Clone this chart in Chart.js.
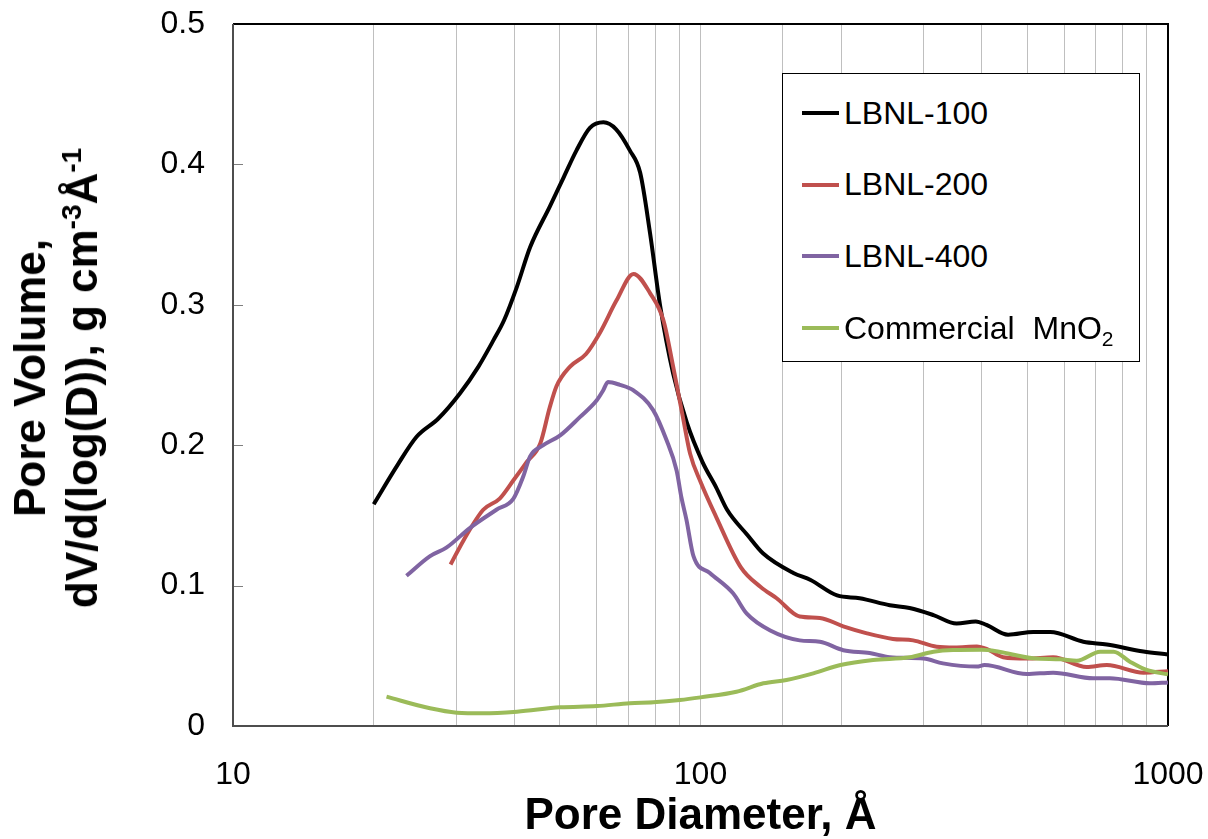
<!DOCTYPE html>
<html>
<head>
<meta charset="utf-8">
<script src="https://cdn.jsdelivr.net/npm/chart.js@4/dist/chart.umd.min.js"></script>
<style>
  body { margin: 0; background: #fff; }
  #wrap { position: relative; width: 1208px; height: 839px; }
  #yTitle {
    position: absolute; left: 56px; top: 378px;
    transform: translate(-50%, -50%) rotate(-90deg);
    font: bold 44px "Liberation Sans", Arial, sans-serif;
    line-height: 52px; text-align: center; white-space: nowrap; color: #000;
  }
  #yTitle sup { font-size: 28px; vertical-align: 16px; line-height: 0; }
  #legendBox {
    position: absolute; left: 782px; top: 73px; width: 356px; height: 287px;
    border: 1.5px solid #000; background: #fff;
    font: 32px "Liberation Sans", Arial, sans-serif; color: #000;
  }
  .legendRow { position: absolute; left: 0; height: 72px; display: flex; align-items: center; white-space: nowrap; }
  .legendLine { width: 37px; height: 4px; margin-left: 19px; margin-right: 5px; }
  .legendRow sub { font-size: 21px; vertical-align: -7px; line-height: 0; }
</style>
</head>
<body>
<div id="wrap">
  <canvas id="poreChart"></canvas>
  <div id="yTitle">Pore Volume,<br>dV/d(log(D)), g cm<sup>-3</sup>Å<sup>-1</sup></div>
  <div id="legendBox"></div>
</div>
<script>
// values (diameter in Å, dV/dlogD in g cm-3 Å-1)
const seriesNames = ["LBNL-100", "LBNL-200", "LBNL-400", "Commercial  MnO2"];
const seriesColors = ["#000000", "#c0504d", "#8064a2", "#9bbb59"];

const lbnl100Diameter = [20, 22.5, 24.7, 27.5, 30.6, 33.5, 36.1, 38, 40.5, 43.2, 47.6, 51, 54.3, 58, 62, 66, 70.6, 74.3, 78, 82, 87.4, 93.5, 101, 108, 114, 126, 136, 158, 172, 196, 219, 254, 280, 315, 353, 388, 409, 455, 515, 560, 659, 740, 886, 1000];
const lbnl100Volume = [0.158, 0.186, 0.206, 0.219, 0.237, 0.256, 0.275, 0.289, 0.313, 0.341, 0.370, 0.391, 0.410, 0.426, 0.430, 0.425, 0.410, 0.394, 0.351, 0.299, 0.251, 0.216, 0.188, 0.170, 0.154, 0.136, 0.123, 0.109, 0.104, 0.093, 0.091, 0.086, 0.084, 0.079, 0.073, 0.0745, 0.072, 0.065, 0.067, 0.067, 0.060, 0.058, 0.053, 0.051];

const lbnl200Diameter = [29.2, 31.1, 34.3, 37.2, 39.8, 42.5, 45.4, 47.6, 49.2, 52.6, 56.9, 60.9, 66.1, 71.9, 78.1, 83.3, 87.4, 91.7, 95, 100, 108, 122, 134.5, 145.5, 163, 180, 202, 227, 258, 285, 320, 350, 390, 409, 444, 500, 568, 670, 740, 886, 1000];
const lbnl200Volume = [0.115, 0.132, 0.154, 0.162, 0.175, 0.188, 0.201, 0.227, 0.242, 0.256, 0.265, 0.280, 0.303, 0.322, 0.308, 0.289, 0.256, 0.220, 0.194, 0.174, 0.149, 0.113, 0.099, 0.091, 0.078, 0.077, 0.071, 0.066, 0.062, 0.061, 0.0565, 0.056, 0.0567, 0.055, 0.049, 0.048, 0.049, 0.042, 0.0434, 0.038, 0.039];

const lbnl400Diameter = [23.5, 26.4, 28.6, 32.1, 36.6, 39.8, 41.8, 43.2, 46.1, 50.1, 55.2, 60, 61.9, 63.4, 67.2, 71.9, 79.2, 84.5, 88.9, 91, 93.3, 96.6, 104.7, 117.4, 125.6, 141, 163, 180, 202, 230, 254, 300, 330, 390, 405, 499, 568, 692, 751, 915, 1000];
const lbnl400Volume = [0.107, 0.121, 0.127, 0.141, 0.154, 0.162, 0.178, 0.192, 0.200, 0.207, 0.220, 0.232, 0.239, 0.245, 0.243, 0.239, 0.225, 0.204, 0.182, 0.163, 0.147, 0.121, 0.109, 0.0945, 0.080, 0.068, 0.061, 0.060, 0.054, 0.052, 0.049, 0.048, 0.0446, 0.0423, 0.0434, 0.037, 0.038, 0.034, 0.034, 0.0304, 0.031];

const mno2Diameter = [21.3, 26.4, 30.1, 34.3, 40.5, 50.1, 60, 70.6, 79.3, 90.3, 100, 119.4, 136.3, 152.7, 174.3, 199.3, 234, 280, 315, 347, 400, 435, 515, 589, 638, 716, 765, 829, 900, 1000];
const mno2Volume = [0.0209, 0.0126, 0.0095, 0.009, 0.0102, 0.0133, 0.0142, 0.0162, 0.0169, 0.0185, 0.0204, 0.0244, 0.0304, 0.0328, 0.0375, 0.0434, 0.047, 0.0489, 0.0529, 0.0541, 0.0543, 0.0529, 0.0482, 0.0475, 0.0465, 0.0529, 0.0529, 0.0458, 0.0399, 0.0368];

const xTickLabels = [10, 100, 1000];
const yTickValues = [0, 0.1, 0.2, 0.3, 0.4, 0.5];

const diameters = [lbnl100Diameter, lbnl200Diameter, lbnl400Diameter, mno2Diameter];
const volumes = [lbnl100Volume, lbnl200Volume, lbnl400Volume, mno2Volume];

function toPoints(xs, ys) {
  return xs.map((x, i) => ({ x: x, y: ys[i] }));
}

Chart.defaults.font.family = '"Liberation Sans", Arial, sans-serif';
Chart.defaults.color = '#000';

// frame round the plot area plus the short inside ticks on the y axis
const framePlugin = {
  id: 'frame',
  beforeDatasetsDraw(chart) {
    const { ctx, chartArea: a } = chart;
    const yScale = chart.scales.y;
    ctx.save();
    ctx.strokeStyle = '#7f7f7f';
    ctx.lineWidth = 1;
    yTickValues.forEach(v => {
      const py = Math.round(yScale.getPixelForValue(v)) + 0.5;
      ctx.beginPath();
      ctx.moveTo(a.left, py);
      ctx.lineTo(a.left + 10, py);
      ctx.stroke();
    });
    ctx.lineWidth = 2;
    ctx.strokeStyle = '#000';
    ctx.beginPath();
    ctx.moveTo(a.left, a.top);
    ctx.lineTo(a.right, a.top);
    ctx.lineTo(a.right, a.bottom);
    ctx.stroke();
    ctx.strokeStyle = '#4d4d4d';
    ctx.beginPath();
    ctx.moveTo(a.left, a.top);
    ctx.lineTo(a.left, a.bottom);
    ctx.lineTo(a.right, a.bottom);
    ctx.stroke();
    ctx.restore();
  }
};

const ctx = document.getElementById('poreChart').getContext('2d');
const chart = new Chart(ctx, {
  type: 'scatter',
  data: {
    datasets: seriesNames.map((name, i) => ({
      label: name,
      data: toPoints(diameters[i], volumes[i]),
      showLine: true,
      borderColor: seriesColors[i],
      backgroundColor: seriesColors[i],
      borderWidth: 4,
      pointRadius: 0,
      cubicInterpolationMode: 'monotone',
      order: seriesNames.length - i
    }))
  },
  options: {
    responsive: true,
    maintainAspectRatio: false,
    devicePixelRatio: 1,
    animation: false,
    layout: { padding: { left: 0, right: 40, top: 24, bottom: 0 } },
    plugins: {
      legend: { display: false },
      tooltip: { enabled: false }
    },
    scales: {
      x: {
        type: 'logarithmic',
        min: 10,
        max: 1000,
        border: { display: false },
        grid: { color: '#bfbfbf', lineWidth: 1, drawTicks: false },
        ticks: {
          autoSkip: false,
          maxRotation: 0,
          padding: 30,
          font: { size: 32 },
          callback: v => xTickLabels.includes(Math.round(v)) && Math.abs(v - Math.round(v)) < 1e-6 ? String(Math.round(v)) : ''
        },
        title: {
          display: true,
          text: 'Pore Diameter, Å',
          font: { size: 44, weight: 'bold', lineHeight: 1 },
          padding: { top: 0, bottom: 0 }
        },
        afterFit: s => { s.height = 113; s.paddingLeft = 0; s.paddingRight = 0; }
      },
      y: {
        min: 0,
        max: 0.5,
        border: { display: false },
        grid: { display: false, drawTicks: false },
        afterBuildTicks: s => { s.ticks = yTickValues.map(v => ({ value: v })); },
        ticks: {
          padding: 28,
          font: { size: 32 },
          callback: v => v === 0 ? '0' : v.toFixed(1)
        },
        afterFit: s => { s.width = 233; s.paddingTop = 0; s.paddingBottom = 0; }
      }
    }
  },
  plugins: [framePlugin]
});

// legend box built from the datasets
const legendBox = document.getElementById('legendBox');
chart.data.datasets.forEach((ds, i) => {
  const row = document.createElement('div');
  row.className = 'legendRow';
  row.style.top = (3 + i * 71.7) + 'px';
  const line = document.createElement('span');
  line.className = 'legendLine';
  line.style.background = ds.borderColor;
  const text = document.createElement('span');
  text.innerHTML = ds.label.replace(/  /g, '&nbsp; ').replace(/O2$/, 'O<sub>2</sub>');
  row.appendChild(line);
  row.appendChild(text);
  legendBox.appendChild(row);
});
</script>
</body>
</html>
